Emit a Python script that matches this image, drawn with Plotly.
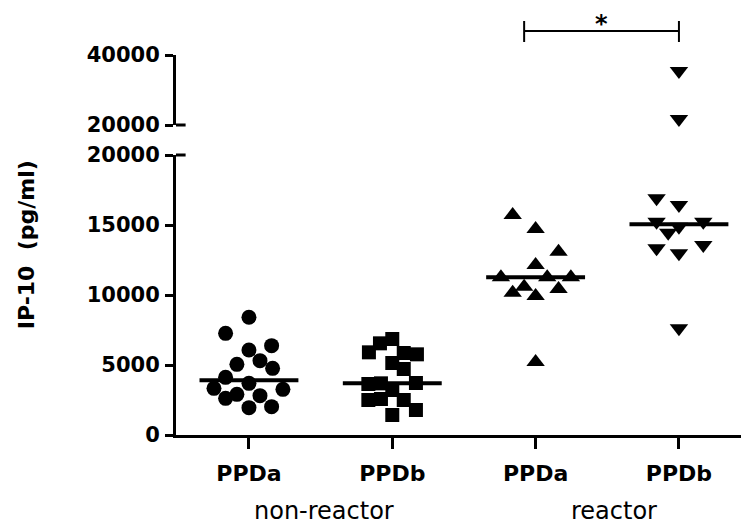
import numpy as np
import plotly.graph_objects as go

# ---- data ----
categories = ["PPDa", "PPDb", "PPDa", "PPDb"]
group_labels = ["non-reactor", "reactor"]

nr_ppda = [8407, 7262, 6071, 6381, 5048, 5310, 4762, 4119, 3333, 3690, 3262, 2619, 2905, 2810, 1952, 2024]
nr_ppda_jitter = [0, -0.163, 0, 0.158, -0.084, 0.077, 0.165, -0.163, -0.244, 0, 0.237, -0.163, -0.084, 0.077, 0, 0.158]

nr_ppdb = [6857, 6548, 5905, 5857, 5762, 5143, 4714, 3714, 3643, 3690, 3214, 2500, 2571, 2500, 1786, 1429]
nr_ppdb_jitter = [0, -0.086, -0.163, 0.08, 0.172, 0, 0.08, 0.165, -0.167, -0.079, 0, -0.167, -0.079, 0.08, 0.165, 0]

r_ppda = [15714, 14714, 13095, 12143, 11262, 11262, 11262, 10595, 10167, 10429, 9929, 5214]
r_ppda_jitter = [-0.16, 0, 0.16, 0, -0.242, 0.081, 0.246, -0.08, -0.16, 0.16, 0, 0]

r_ppdb = [35429, 21714, 16905, 16429, 15238, 15238, 14881, 14452, 13333, 12976, 13571, 7619]
r_ppdb_jitter = [0, 0, -0.156, 0, -0.156, 0.17, 0, -0.075, -0.156, 0, 0.17, 0]

lower_ticks = [0, 5000, 10000, 15000, 20000]
upper_ticks = [20000, 40000]
break_value = 20000
upper_max = 40000

series = [
    (1, nr_ppda, nr_ppda_jitter, "circle", 15),
    (2, nr_ppdb, nr_ppdb_jitter, "square", 14),
    (3, r_ppda, r_ppda_jitter, "triangle-up", 16),
    (4, r_ppdb, r_ppdb_jitter, "triangle-down", 16),
]

fig = go.Figure()
for pos, vals, jit, sym, size in series:
    vals = np.array(vals, dtype=float)
    xs = pos + np.array(jit)
    low = vals < break_value
    fig.add_trace(go.Scatter(x=xs[low], y=vals[low], mode="markers",
                             marker=dict(symbol=sym, size=size, color="black", line=dict(width=0)),
                             xaxis="x", yaxis="y", showlegend=False, cliponaxis=False))
    if (~low).any():
        fig.add_trace(go.Scatter(x=xs[~low], y=vals[~low], mode="markers",
                                 marker=dict(symbol=sym, size=size, color="black", line=dict(width=0)),
                                 xaxis="x", yaxis="y2", showlegend=False, cliponaxis=False))
    med = float(np.median(vals))
    fig.add_trace(go.Scatter(x=[pos - 0.345, pos + 0.345], y=[med, med], mode="lines",
                             line=dict(color="black", width=4), xaxis="x", yaxis="y",
                             showlegend=False))

bold = dict(family="DejaVu Sans", size=21, color="black", weight="bold")

lower_dom = [0, 280 / 380]
upper_dom = [310 / 380, 1]

fig.update_layout(
    width=741, height=527, autosize=False,
    margin=dict(l=176, r=0, t=55, b=92),
    plot_bgcolor="white", paper_bgcolor="white",
    xaxis=dict(range=[0.491, 4.433], tickvals=[1, 2, 3, 4], ticktext=categories,
               showline=True, linecolor="black", linewidth=3, ticks="outside",
               ticklen=11, tickwidth=3, tickcolor="black", showgrid=False, zeroline=False,
               tickfont=dict(family="DejaVu Sans", size=22, color="black", weight="bold"),
               anchor="y", ticklabelstandoff=6),
    yaxis=dict(domain=lower_dom, range=[0, break_value], tickvals=lower_ticks,
               ticktext=[str(v) for v in lower_ticks],
               showline=True, linecolor="black", linewidth=3, ticks="outside",
               ticklen=8, tickwidth=3, tickcolor="black", showgrid=False, zeroline=False,
               tickfont=bold, anchor="x", ticklabelstandoff=1),
    yaxis2=dict(domain=upper_dom, range=[break_value, upper_max], tickvals=upper_ticks,
                ticktext=[str(v) for v in upper_ticks],
                showline=True, linecolor="black", linewidth=3, ticks="outside",
                ticklen=8, tickwidth=3, tickcolor="black", showgrid=False, zeroline=False,
                tickfont=bold, anchor="x", ticklabelstandoff=1),
)

# axis-break marks on the right side of the y axis
for yr, yv in (("y domain", 1), ("y2 domain", 0)):
    fig.add_shape(type="line", xref="x domain", yref=yr, x0=0, x1=0.017, y0=yv, y1=yv,
                  line=dict(color="black", width=3))

# significance bracket between reactor PPDa and PPDb
bx0, bx1 = 2.92, 4.0
by, btop, bbot = 1.343, 1.486, 1.186
fig.add_shape(type="line", xref="x", yref="y2 domain", x0=bx0, x1=bx1, y0=by, y1=by,
              line=dict(color="black", width=2))
for bx in (bx0, bx1):
    fig.add_shape(type="line", xref="x", yref="y2 domain", x0=bx, x1=bx, y0=bbot, y1=btop,
                  line=dict(color="black", width=2))
fig.add_annotation(x=(bx0 + bx1) / 2, y=by, xref="x", yref="y2 domain", text="*",
                   showarrow=False, yanchor="bottom", yshift=-9,
                   font=dict(family="DejaVu Sans", size=24, color="black", weight="bold"))

# group labels under the x axis
for cx, lab, sh in zip([1.5, 3.5], group_labels, [3, 7]):
    fig.add_annotation(x=cx, y=-92 / 380, xref="x", yref="paper", text=lab, showarrow=False,
                       yanchor="bottom", xshift=sh,
                       font=dict(family="DejaVu Sans", size=24, color="black"))

# y-axis title centred on whole (broken) axis
fig.add_annotation(x=-0.265, y=0.5, xref="paper", yref="paper", text="IP-10  (pg/ml)",
                   textangle=-90, showarrow=False, xanchor="center", yanchor="middle",
                   font=dict(family="DejaVu Sans", size=22, color="black", weight="bold"))

fig.write_html("out.html", config={"displayModeBar": False},
               post_script="document.body.style.margin='0px';")
